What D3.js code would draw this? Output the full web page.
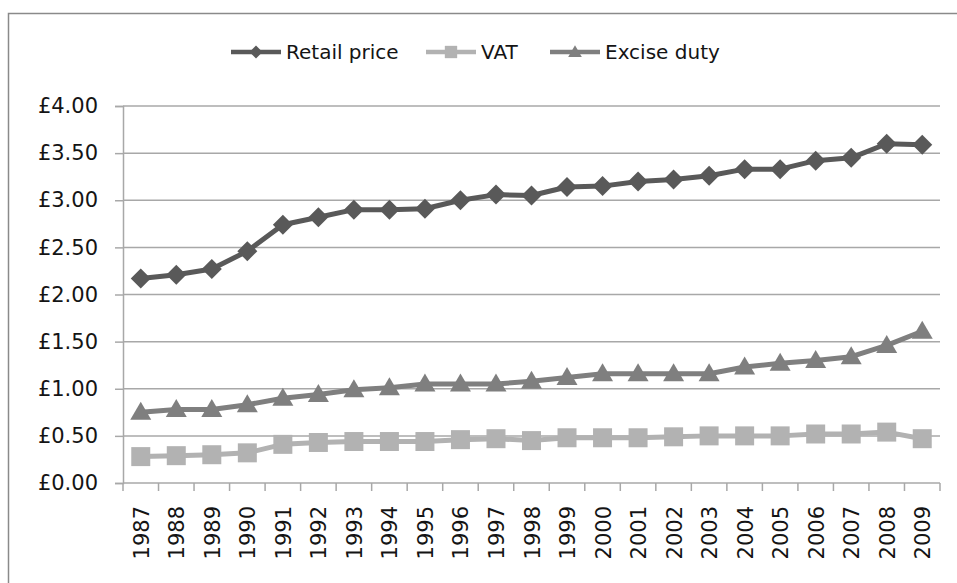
<!DOCTYPE html>
<html>
<head>
<meta charset="utf-8">
<script src="https://cdn.jsdelivr.net/npm/d3@7"></script>
<style>
  html, body { margin: 0; padding: 0; background: #fff; }
  svg { display: block; font-family: "DejaVu Sans", sans-serif; }
</style>
</head>
<body>
<svg id="chart" width="957" height="583"></svg>
<script>
// ----- data -----
const years = ['1987','1988','1989','1990','1991','1992','1993','1994','1995','1996','1997','1998',
               '1999','2000','2001','2002','2003','2004','2005','2006','2007','2008','2009'];

const retailPrice = [2.17, 2.21, 2.27, 2.46, 2.74, 2.82, 2.90, 2.90, 2.91, 3.00, 3.06, 3.05,
                     3.14, 3.15, 3.20, 3.22, 3.26, 3.33, 3.33, 3.42, 3.45, 3.60, 3.59];
const vat         = [0.28, 0.29, 0.30, 0.32, 0.41, 0.43, 0.44, 0.44, 0.44, 0.46, 0.47, 0.45,
                     0.48, 0.48, 0.48, 0.49, 0.50, 0.50, 0.50, 0.52, 0.52, 0.54, 0.47];
const exciseDuty  = [0.75, 0.78, 0.78, 0.83, 0.90, 0.94, 0.99, 1.01, 1.05, 1.05, 1.05, 1.08,
                     1.12, 1.16, 1.16, 1.16, 1.16, 1.23, 1.27, 1.30, 1.34, 1.46, 1.61];

const yTicks = [0, 0.5, 1, 1.5, 2, 2.5, 3, 3.5, 4];

const series = [
  { name: 'Retail price', values: retailPrice, color: '#595959', marker: 'diamond' },
  { name: 'VAT',          values: vat,         color: '#b2b2b2', marker: 'square' },
  { name: 'Excise duty',  values: exciseDuty,  color: '#7f7f7f', marker: 'triangle' }
];

// ----- layout -----
const svg = d3.select('#chart');
const plot = { left: 123, right: 940, top: 106, bottom: 483 };
const gridColor = '#a8a8a8';

// outer chart border (runs off the right/bottom edge like the original)
svg.append('rect')
  .attr('x', 8.5).attr('y', 13.5)
  .attr('width', 1000).attr('height', 700)
  .attr('fill', 'none').attr('stroke', '#8a8a8a').attr('stroke-width', 1.5);

const x = d3.scaleBand().domain(years).range([plot.left, plot.right]);
const y = d3.scaleLinear().domain([0, 4]).range([plot.bottom, plot.top]);

// gridlines
svg.append('g')
  .selectAll('line')
  .data(yTicks.filter(d => d > 0))
  .join('line')
  .attr('x1', plot.left).attr('x2', plot.right)
  .attr('y1', d => y(d)).attr('y2', d => y(d))
  .attr('stroke', gridColor).attr('stroke-width', 1.5);

// y axis
const yAxis = svg.append('g')
  .attr('transform', `translate(${plot.left},0)`)
  .call(d3.axisLeft(y).tickValues(yTicks).tickSize(8).tickPadding(17)
    .tickFormat(d => '£' + d3.format('.2f')(d)));
yAxis.select('.domain').attr('stroke', gridColor).attr('stroke-width', 1.5);
yAxis.selectAll('.tick line').attr('stroke', gridColor).attr('stroke-width', 1.5);
yAxis.selectAll('.tick text')
  .attr('font-size', 21).attr('fill', '#141414').attr('font-family', '"DejaVu Sans", sans-serif');

// x axis (ticks at category boundaries)
const xg = svg.append('g').attr('transform', `translate(0,${plot.bottom})`);
xg.append('line')
  .attr('x1', plot.left).attr('x2', plot.right)
  .attr('stroke', gridColor).attr('stroke-width', 1.5);
const bounds = years.map(d => x(d)).concat([plot.right]);
xg.selectAll('line.tk')
  .data(bounds)
  .join('line')
  .attr('class', 'tk')
  .attr('x1', d => d).attr('x2', d => d)
  .attr('y1', 0).attr('y2', 8)
  .attr('stroke', gridColor).attr('stroke-width', 1.5);
xg.selectAll('text')
  .data(years)
  .join('text')
  .attr('transform', d => `translate(${x(d) + x.bandwidth() / 2 + 8},23) rotate(-90)`)
  .attr('text-anchor', 'end')
  .attr('font-size', 21)
  .attr('fill', '#141414')
  .text(d => d);

// marker shapes
function markerPath(type, s) {
  if (type === 'diamond') return `M0,${-s}L${s},0L0,${s}L${-s},0Z`;
  if (type === 'square') return `M${-s * 0.95},${-s * 0.95}H${s * 0.95}V${s * 0.95}H${-s * 0.95}Z`;
  return `M0,${-s * 1.05}L${s * 1.05},${s * 0.75}L${-s * 1.05},${s * 0.75}Z`;
}

const line = d3.line()
  .x((d, i) => x(years[i]) + x.bandwidth() / 2)
  .y(d => y(d));

// draw lighter series first so dark line stays on top
[series[1], series[2], series[0]].forEach(s => {
  svg.append('path')
    .datum(s.values)
    .attr('d', line)
    .attr('fill', 'none')
    .attr('stroke', s.color)
    .attr('stroke-width', 5)
    .attr('stroke-linejoin', 'round');

  svg.append('g')
    .selectAll('path')
    .data(s.values)
    .join('path')
    .attr('transform', (d, i) => `translate(${x(years[i]) + x.bandwidth() / 2},${y(d)})`)
    .attr('d', markerPath(s.marker, 10))
    .attr('fill', s.color);
});

// legend
const legendItems = [
  { s: series[0], x0: 231, tx: 286 },
  { s: series[1], x0: 426, tx: 481 },
  { s: series[2], x0: 550, tx: 605 }
];
const legendY = 52;
const lg = svg.append('g');
legendItems.forEach(it => {
  lg.append('line')
    .attr('x1', it.x0).attr('x2', it.x0 + 50)
    .attr('y1', legendY).attr('y2', legendY)
    .attr('stroke', it.s.color).attr('stroke-width', 4.5);
  lg.append('path')
    .attr('transform', `translate(${it.x0 + 25},${legendY})`)
    .attr('d', markerPath(it.s.marker, 6.5))
    .attr('fill', it.s.color);
  lg.append('text')
    .attr('x', it.tx).attr('y', legendY)
    .attr('dy', '0.35em')
    .attr('font-size', 20)
    .attr('fill', '#141414')
    .text(it.s.name);
});
</script>
</body>
</html>
